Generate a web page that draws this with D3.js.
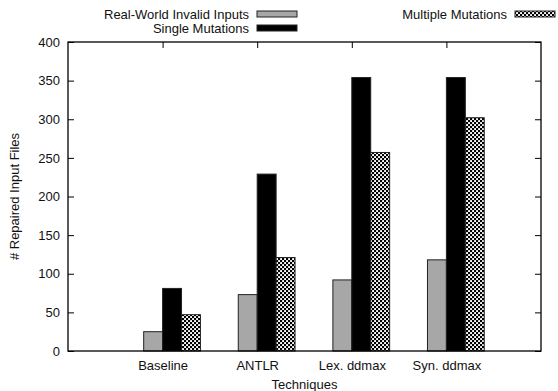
<!DOCTYPE html>
<html>
<head>
<meta charset="utf-8">
<script src="https://cdn.jsdelivr.net/npm/d3@7"></script>
<style>
  body { margin: 0; background: #fff; }
  text { font-family: "Liberation Sans", Arial, sans-serif; fill: #111; }
</style>
</head>
<body>
<svg id="plot"></svg>
<script>
// Data
const techniques = ["Baseline", "ANTLR", "Lex. ddmax", "Syn. ddmax"];
const realWorld = [25, 73, 92, 118];
const singleMut = [81, 229, 354, 354];
const multipleMut = [47, 121, 257, 302];
const yTicks = [0, 50, 100, 150, 200, 250, 300, 350, 400];

const series = [
  { name: "Real-World Invalid Inputs", values: realWorld, fill: "#a7a7a7", offset: -0.2 },
  { name: "Single Mutations", values: singleMut, fill: "#000", offset: 0 },
  { name: "Multiple Mutations", values: multipleMut, fill: "url(#hatch)", offset: 0.2 }
];

const W = 558, H = 391;
const margin = { top: 42, right: 17, bottom: 40, left: 68 };
const width = W - margin.left - margin.right;
const height = H - margin.top - margin.bottom;

const root = d3.select("#plot").attr("width", W).attr("height", H);

// dotted lattice pattern for the third series
const pat = root.append("defs").append("pattern")
    .attr("id", "hatch")
    .attr("patternUnits", "userSpaceOnUse")
    .attr("width", 4).attr("height", 4);
pat.append("rect").attr("width", 4).attr("height", 4).attr("fill", "#000");
pat.append("rect").attr("x", 0.1).attr("y", 0.1).attr("width", 1.9).attr("height", 1.9).attr("fill", "#fff");
pat.append("rect").attr("x", 2.1).attr("y", 2.1).attr("width", 1.9).attr("height", 1.9).attr("fill", "#fff");

const svg = root.append("g")
    .attr("transform", "translate(" + margin.left + "," + margin.top + ")");

// gnuplot-like numeric x axis: categories at 0..3, range -1..4
const x = d3.scaleLinear().domain([-1, 4]).range([0, width]);
const y = d3.scaleLinear().domain([0, 400]).range([height, 0]);
const bw = x(0.2) - x(0);

// bars
series.forEach(s => {
  svg.selectAll(null)
      .data(s.values)
      .enter().append("rect")
      .attr("x", (d, i) => x(i + s.offset))
      .attr("y", d => y(d))
      .attr("width", bw)
      .attr("height", d => y(0) - y(d))
      .attr("fill", s.fill)
      .attr("stroke", "#222")
      .attr("stroke-width", 1);
});

// y ticks, mirrored on right
svg.append("g")
    .call(d3.axisLeft(y).tickValues(yTicks).tickSize(-6).tickPadding(8))
    .call(g => g.select(".domain").remove())
    .call(g => g.selectAll("text").style("font-size", "13px").attr("fill", "#111"));
svg.append("g")
    .attr("transform", "translate(" + width + ",0)")
    .call(d3.axisRight(y).tickValues(yTicks).tickSize(-6).tickFormat(""))
    .call(g => g.select(".domain").remove());

// x ticks at the top, labels at the bottom
svg.append("g")
    .call(d3.axisTop(x).tickValues(d3.range(techniques.length)).tickSize(-6).tickFormat(""))
    .call(g => g.select(".domain").remove());
svg.append("g")
    .attr("transform", "translate(0," + height + ")")
    .call(d3.axisBottom(x).tickValues(d3.range(techniques.length)).tickSize(0).tickPadding(10)
        .tickFormat(i => techniques[i]))
    .call(g => g.select(".domain").remove())
    .call(g => g.selectAll("text").style("font-size", "13px").attr("fill", "#111"));

// frame
svg.append("rect")
    .attr("width", width).attr("height", height)
    .attr("fill", "none").attr("stroke", "#000").attr("stroke-width", 1.3);

// axis titles
svg.append("text")
    .attr("x", width / 2)
    .attr("y", height + 38)
    .attr("text-anchor", "middle")
    .style("font-size", "13px")
    .text("Techniques");

svg.append("text")
    .attr("transform", "translate(" + (14 - margin.left) + "," + (height / 2) + ") rotate(-90)")
    .attr("text-anchor", "middle")
    .attr("dy", "0.35em")
    .style("font-size", "13px")
    .text("# Repaired Input Files");

// legend (outside, above plot)
const legend = [
  { s: series[0], tx: 249, y: 14 },
  { s: series[1], tx: 249, y: 28 },
  { s: series[2], tx: 507, y: 14 }
];
legend.forEach(l => {
  root.append("text")
      .attr("x", l.tx).attr("y", l.y)
      .attr("dy", "0.35em")
      .attr("text-anchor", "end")
      .style("font-size", "13px")
      .text(l.s.name);
  root.append("rect")
      .attr("x", l.tx + 8).attr("y", l.y - 3)
      .attr("width", 40).attr("height", 6)
      .attr("fill", l.s.fill)
      .attr("stroke", "#222").attr("stroke-width", 1);
});
</script>
</body>
</html>
